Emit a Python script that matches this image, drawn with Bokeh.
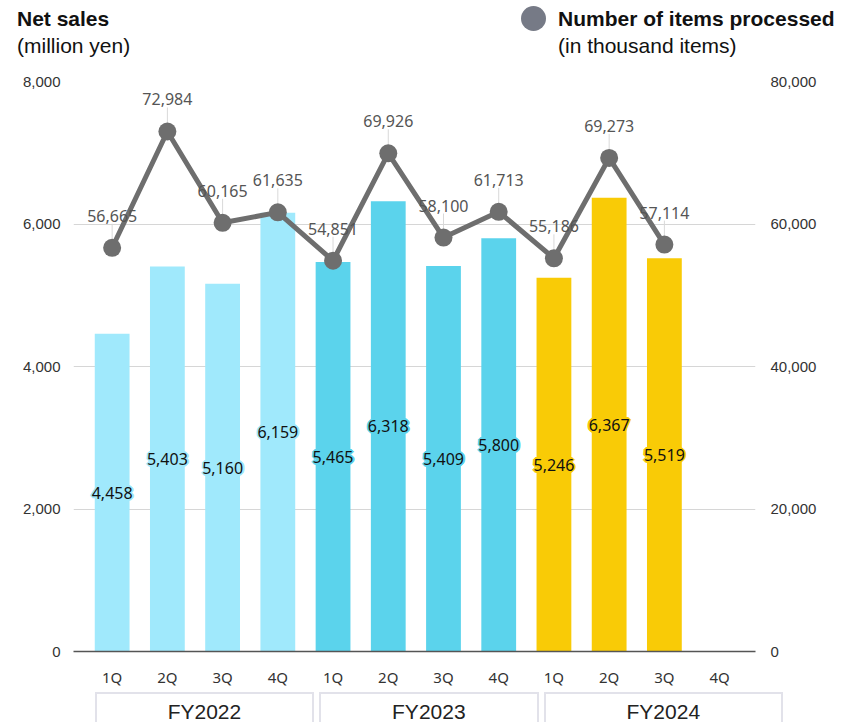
from bokeh.plotting import figure
from bokeh.layouts import column
from bokeh.models import Range1d, LinearAxis, FixedTicker, NumeralTickFormatter, ColumnDataSource, Div
from bokeh.core.properties import value
from bokeh.embed import file_html
from bokeh.resources import INLINE

# ---------------- data ----------------
fiscal_years = ["FY2022", "FY2023", "FY2024"]
quarters = ["1Q", "2Q", "3Q", "4Q"]
net_sales = [4458, 5403, 5160, 6159, 5465, 6318, 5409, 5800, 5246, 6367, 5519, None]
items_processed = [56665, 72984, 60165, 61635, 54851, 69926, 58100, 61713, 55186, 69273, 57114, None]
sales_ticks = [0, 2000, 4000, 6000, 8000]
items_ticks = [0, 20000, 40000, 60000, 80000]
fy_colors = ["#a0e9fc", "#5bd3ec", "#f9cb06"]

# ---------------- layout constants ----------------
W, H = 842, 722
HEAD_H, FOOT_H = 71, 30
MAIN_H = H - HEAD_H - FOOT_H
FRAME_L, FRAME_R, FRAME_T, FRAME_B = 73, 755, 81, 651
X0, X1 = -0.70, 11.65
BAR_W = 0.63
FRAME_W = FRAME_R - FRAME_L
PPU = FRAME_W / (X1 - X0)
fy_box_start = [-0.30, 3.75, 7.83]
fy_box_end = [3.66, 7.74, 12.15]
NUM_FONT = "Noto Sans"

n = len(net_sales)
xs = list(range(n))
bar_x = [i for i in xs if net_sales[i] is not None]
bar_top = [net_sales[i] for i in bar_x]
bar_col = [fy_colors[i // 4] for i in bar_x]
bar_half = [v / 2 for v in bar_top]
bar_lbl = [f"{v:,}" for v in bar_top]
bars = ColumnDataSource(dict(x=bar_x, top=bar_top, color=bar_col, half=bar_half, label=bar_lbl))

pt_x = [i for i in xs if items_processed[i] is not None]
pt_y = [items_processed[i] for i in pt_x]
pt_lbl = [f"{v:,}" for v in pt_y]
frame_h = FRAME_B - FRAME_T
items_per_px = (items_ticks[-1] - items_ticks[0]) / frame_h
pt_lead = [v + 24 * items_per_px for v in pt_y]
pts = ColumnDataSource(dict(x=pt_x, y=pt_y, label=pt_lbl, lead=pt_lead))

# ---------------- header (HTML) ----------------
def span(left, top, text, bold=False):
    fw = "bold" if bold else "normal"
    return (f'<div style="position:absolute;left:{left}px;top:{top}px;font-size:21px;'
            f'line-height:24px;font-weight:{fw};white-space:nowrap;">{text}</div>')

head_html = (
    f'<div style="position:relative;width:{W}px;height:{HEAD_H}px;overflow:hidden;'
    f'font-family:\'Liberation Sans\',Arial,sans-serif;color:#111;">'
    + span(17, 7, "Net sales", True)
    + span(17, 34, "(million yen)")
    + '<div style="position:absolute;left:521px;top:6px;width:25px;height:25px;'
      'border-radius:50%;background:#767a86;"></div>'
    + span(558, 7, "Number of items processed", True)
    + span(558, 34, "(in thousand items)")
    + '</div>'
)
head = Div(text=head_html, width=W, height=HEAD_H, margin=0)

# ---------------- main ----------------
p = figure(width=W, height=MAIN_H, x_range=Range1d(X0, X1),
           y_range=Range1d(sales_ticks[0], sales_ticks[-1]),
           output_backend="svg", toolbar_location=None,
           min_border_left=FRAME_L, min_border_right=W - FRAME_R,
           min_border_top=FRAME_T - HEAD_H, min_border_bottom=HEAD_H + MAIN_H - FRAME_B,
           outline_line_color=None, margin=0)
p.extra_y_ranges = {"items": Range1d(items_ticks[0], items_ticks[-1])}
p.xgrid.visible = False
p.ygrid.ticker = FixedTicker(ticks=sales_ticks)
p.ygrid.grid_line_color = "#d6d6d6"
p.ygrid.grid_line_width = 1

xa = p.xaxis[0]
xa.ticker = FixedTicker(ticks=xs)
xa.major_label_overrides = {i: quarters[i % 4] for i in xs}
xa.axis_line_color = "#555555"
xa.axis_line_width = 1.5
xa.major_tick_line_color = None
xa.minor_tick_line_color = None
xa.major_label_standoff = 9
xa.major_label_text_font = NUM_FONT
xa.major_label_text_font_size = "15px"
xa.major_label_text_color = "#333333"

ya = p.yaxis[0]
ya.ticker = FixedTicker(ticks=sales_ticks)
ya.formatter = NumeralTickFormatter(format="0,0")
ya.axis_line_color = None
ya.major_tick_line_color = None
ya.minor_tick_line_color = None
ya.major_label_standoff = 7
ya.major_label_text_font = "Liberation Sans"
ya.major_label_text_font_size = "15px"
ya.major_label_text_color = "#333333"

ra = LinearAxis(y_range_name="items", ticker=FixedTicker(ticks=items_ticks),
                formatter=NumeralTickFormatter(format="0,0"))
ra.axis_line_color = None
ra.major_tick_line_color = None
ra.minor_tick_line_color = None
ra.major_label_standoff = 9
ra.major_label_text_font = "Liberation Sans"
ra.major_label_text_font_size = "15px"
ra.major_label_text_color = "#333333"
p.add_layout(ra, "right")

p.vbar(x="x", top="top", width=BAR_W, bottom=0, fill_color="color", line_color=None, source=bars)

# halo for bar labels
for dx, dy in [(-1, -1), (-1, 0), (-1, 1), (0, -1), (0, 1), (1, -1), (1, 0), (1, 1),
               (-2, 0), (2, 0), (0, -2), (0, 2)]:
    p.text(x="x", y="half", text="label", source=bars, x_offset=dx, y_offset=dy,
           text_font=value(NUM_FONT), text_font_size="16px", text_color="color",
           text_align="center", text_baseline="middle")
p.text(x="x", y="half", text="label", source=bars, text_font=value(NUM_FONT),
       text_font_size="16px", text_color="#111111", text_align="center", text_baseline="middle")

# line series
p.segment(x0="x", y0="y", x1="x", y1="lead", source=pts, y_range_name="items",
          line_color="#d9d9d9", line_width=1)
p.line(x="x", y="y", source=pts, y_range_name="items", line_color="#6e6e6e", line_width=5)
p.scatter(x="x", y="y", source=pts, y_range_name="items", size=18, marker="circle",
          fill_color="#6e6e6e", line_color=None)
p.text(x="x", y="y", text="label", source=pts, y_range_name="items", y_offset=-32,
       text_font=value(NUM_FONT), text_font_size="16px", text_color="#555555",
       text_align="center", text_baseline="middle")

# ---------------- footer (HTML boxes positioned from the x scale) ----------------
def to_px(u):
    return FRAME_L + (u - X0) * PPU

boxes = ""
for name, a, b in zip(fiscal_years, fy_box_start, fy_box_end):
    left = to_px(a)
    width = to_px(b) - left
    boxes += (f'<div style="position:absolute;left:{left:.1f}px;top:0px;width:{width:.1f}px;'
              f'height:60px;box-sizing:border-box;border:2px solid #e2e2ea;background:#fff;'
              f'text-align:center;font-size:21px;line-height:36px;color:#222;">{name}</div>')
foot_html = (f'<div style="position:relative;width:{W}px;height:{FOOT_H}px;overflow:hidden;'
             f'font-family:\'Liberation Sans\',Arial,sans-serif;">' + boxes + '</div>')
foot = Div(text=foot_html, width=W, height=FOOT_H, margin=0)

layout = column(head, p, foot, spacing=0)
open("out.html", "w").write(file_html(layout, INLINE))
